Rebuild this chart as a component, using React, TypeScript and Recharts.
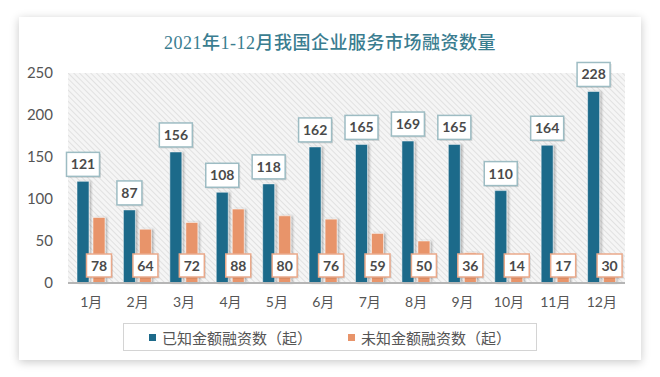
import React from "react";
import { BarChart, Bar, XAxis, YAxis, CartesianGrid, LabelList } from "recharts";

const months = ["1月", "2月", "3月", "4月", "5月", "6月", "7月", "8月", "9月", "10月", "11月", "12月"];
const knownAmount = [121, 87, 156, 108, 118, 162, 165, 169, 165, 110, 164, 228];
const unknownAmount = [78, 64, 72, 88, 80, 76, 59, 50, 36, 14, 17, 30];
const yTicks = [0, 50, 100, 150, 200, 250];
const seriesNames = ["已知金额融资数（起）", "未知金额融资数（起）"];

const BLUE = "#1d6a8a";
const ORANGE = "#e8946a";
const FONT = "Lato, 'Noto Sans CJK SC', sans-serif";

const data = months.map((m, i) => ({ month: m, known: knownAmount[i], unknown: unknownAmount[i] }));

function boxWidth(v: any) {
  return String(v).length * 8 + 9;
}

function KnownLabel(props: any) {
  const x = Number(props.x);
  const y = Number(props.y);
  const w = Number(props.width);
  const cx = x + w / 2;
  const bw = boxWidth(props.value);
  const bh = 24;
  const top = y - 5 - bh;
  return (
    <g>
      <rect x={cx - bw / 2 + 1.5} y={top + 1.5} width={bw} height={bh} fill="rgba(0,0,0,0.12)" />
      <rect x={cx - bw / 2} y={top} width={bw} height={bh} fill="#fff" stroke="#9dbcc3" strokeWidth={1.5} />
      <text x={cx} y={top + bh / 2 + 5} textAnchor="middle" fontSize={14} fontWeight={700} fill="#4a4a4a" fontFamily={FONT}>
        {props.value}
      </text>
    </g>
  );
}

function UnknownLabel(props: any) {
  const x = Number(props.x);
  const y = Number(props.y);
  const w = Number(props.width);
  const h = Number(props.height);
  const cx = x + w / 2;
  const bottom = y + h;
  const bw = boxWidth(props.value);
  const bh = 23;
  const top = bottom - 6 - bh;
  return (
    <g>
      <rect x={cx - bw / 2 + 1.5} y={top + 1.5} width={bw} height={bh} fill="rgba(0,0,0,0.12)" />
      <rect x={cx - bw / 2} y={top} width={bw} height={bh} fill="#fff" stroke="#eaa98a" strokeWidth={1.5} />
      <text x={cx} y={top + bh / 2 + 5} textAnchor="middle" fontSize={14} fontWeight={700} fill="#4a4a4a" fontFamily={FONT}>
        {props.value}
      </text>
    </g>
  );
}

export default function App() {
  const colors = [BLUE, ORANGE];
  return (
    <div style={{ position: "absolute", left: 0, top: 0, width: 660, height: 377, background: "#fff", overflow: "hidden" }}>
      <svg width={0} height={0} style={{ position: "absolute" }}>
        <defs>
          <pattern id="hatch" width={4} height={4} patternUnits="userSpaceOnUse" patternTransform="rotate(-45)">
            <rect width={4} height={4} fill="#f5f5f5" />
            <line x1={0} y1={0} x2={0} y2={4} stroke="#d6d6d6" strokeWidth={1.3} />
          </pattern>
          <filter id="barShadow" x="-30%" y="-5%" width="160%" height="110%">
            <feDropShadow dx={2} dy={0} stdDeviation={1} floodColor="#000" floodOpacity={0.25} />
          </filter>
        </defs>
      </svg>
      <div
        style={{
          position: "absolute",
          left: 19,
          top: 17,
          width: 622,
          height: 343,
          background: "#fff",
          boxShadow: "0 2px 9px rgba(0,0,0,0.22)",
        }}
      />
      <div
        style={{
          position: "absolute",
          left: 0,
          top: 28,
          width: 660,
          textAlign: "center",
          fontFamily: "'Liberation Serif', 'Noto Sans CJK SC', serif",
          fontSize: 18,
          letterSpacing: 0.5,
          fontWeight: 500,
          color: "#3a7d90",
        }}
      >
        2021年1-12月我国企业服务市场融资数量
      </div>
      <div style={{ position: "absolute", left: 0, top: 0 }}>
        <BarChart
          width={660}
          height={377}
          data={data}
          margin={{ top: 73, right: 35, bottom: 64, left: 18 }}
          barSize={12}
          barGap={4}
        >
          <CartesianGrid fill="url(#hatch)" horizontal={false} vertical={false} />
          <XAxis
            dataKey="month"
            tickLine={false}
            tickSize={0}
            tickMargin={14}
            axisLine={{ stroke: "#b5b5b5", strokeWidth: 2 }}
            tick={{ fill: "#555", fontSize: 14, fontFamily: FONT }}
            height={30}
          />
          <YAxis
            width={50}
            domain={[0, 250]}
            ticks={yTicks}
            axisLine={false}
            tickLine={false}
            tickSize={6}
            tickMargin={9}
            tick={{ fill: "#555", fontSize: 15, fontFamily: FONT }}
          />
          <Bar
            dataKey="known"
            name={seriesNames[0]}
            fill={BLUE}
            stroke="#ffffff"
            strokeOpacity={0.5}
            strokeWidth={1}
            filter="url(#barShadow)"
            isAnimationActive={false}
          >
            <LabelList dataKey="known" content={<KnownLabel />} />
          </Bar>
          <Bar
            dataKey="unknown"
            name={seriesNames[1]}
            fill={ORANGE}
            stroke="#ffffff"
            strokeOpacity={0.5}
            strokeWidth={1}
            filter="url(#barShadow)"
            isAnimationActive={false}
          >
            <LabelList dataKey="unknown" content={<UnknownLabel />} />
          </Bar>
        </BarChart>
      </div>
      <div
        style={{
          position: "absolute",
          left: 123,
          top: 323,
          width: 412,
          height: 26,
          border: "1px solid #d4d4d4",
          display: "flex",
          alignItems: "center",
          justifyContent: "center",
          gap: 36,
          fontFamily: FONT,
          fontSize: 15,
          color: "#555",
          background: "#fff",
        }}
      >
        {seriesNames.map((n, i) => (
          <div key={n} style={{ display: "flex", alignItems: "center" }}>
            <span style={{ width: 7, height: 7, background: colors[i], marginRight: 6, display: "inline-block" }} />
            <span>{n}</span>
          </div>
        ))}
      </div>
    </div>
  );
}
